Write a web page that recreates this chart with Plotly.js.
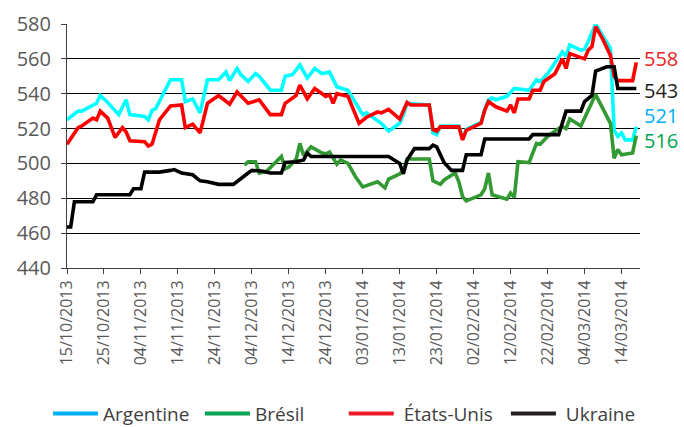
<!DOCTYPE html>
<html>
<head>
<meta charset="utf-8">
<script src="https://cdn.plot.ly/plotly-3.0.1.min.js"></script>
<style>
  html, body { margin: 0; padding: 0; background: #ffffff; }
  #chart { width: 684px; height: 427px; }
</style>
</head>
<body>
<div id="chart"></div>
<script>
// ---------- DATA ----------
const seriesNames = ["Argentine", "Brésil", " États-Unis", " Ukraine"];

const argentineDates = ["2013-10-15","2013-10-18","2013-10-19","2013-10-21","2013-10-23","2013-10-24","2013-10-26","2013-10-29","2013-10-31","2013-11-01","2013-11-05","2013-11-06","2013-11-07","2013-11-08","2013-11-12","2013-11-15","2013-11-16","2013-11-18","2013-11-20","2013-11-22","2013-11-25","2013-11-27","2013-11-28","2013-11-30","2013-12-01","2013-12-03","2013-12-05","2013-12-06","2013-12-09","2013-12-12","2013-12-13","2013-12-15","2013-12-17","2013-12-19","2013-12-21","2013-12-23","2013-12-25","2013-12-27","2013-12-30","2014-01-03","2014-01-04","2014-01-08","2014-01-10","2014-01-13","2014-01-14","2014-01-15","2014-01-21","2014-01-22","2014-01-23","2014-01-24","2014-01-29","2014-01-30","2014-01-31","2014-02-04","2014-02-05","2014-02-06","2014-02-07","2014-02-08","2014-02-11","2014-02-13","2014-02-17","2014-02-19","2014-02-20","2014-02-22","2014-02-26","2014-02-27","2014-02-28","2014-03-03","2014-03-04","2014-03-05","2014-03-07","2014-03-11","2014-03-12","2014-03-13","2014-03-14","2014-03-15","2014-03-17","2014-03-18"];
const argentineValues = [525,530,530,532,534.5,539,535,528,536.5,528,527,525,530.5,531.5,548,548,535.5,537,529,548,548,552.5,547.5,554.5,551,547,551.5,550,542,542,550,551,556.5,549,554.5,551.5,552.5,544,542,528,529,523,518.5,523,528,534.5,533.5,517.5,516.5,521.5,521.5,514,519.5,523.5,531,536.5,537.5,536.5,538.5,543,542,548,547,551.5,564,561.5,568,565,565.5,570,580,566,519,515.5,517.5,513.5,513.5,521];

const bresilDates = ["2013-12-02","2013-12-03","2013-12-05","2013-12-06","2013-12-08","2013-12-12","2013-12-13","2013-12-14","2013-12-16","2013-12-17","2013-12-18","2013-12-20","2013-12-23","2013-12-24","2013-12-25","2013-12-27","2013-12-28","2013-12-30","2014-01-01","2014-01-03","2014-01-07","2014-01-09","2014-01-10","2014-01-13","2014-01-14","2014-01-15","2014-01-21","2014-01-22","2014-01-24","2014-01-25","2014-01-28","2014-01-29","2014-01-30","2014-01-31","2014-02-04","2014-02-05","2014-02-06","2014-02-07","2014-02-11","2014-02-12","2014-02-13","2014-02-14","2014-02-17","2014-02-19","2014-02-20","2014-02-22","2014-02-25","2014-02-26","2014-02-27","2014-02-28","2014-03-03","2014-03-04","2014-03-07","2014-03-11","2014-03-12","2014-03-13","2014-03-14","2014-03-17","2014-03-18"];
const bresilValues = [499,501,501,494.5,495.5,504,497,498,502.5,511.5,504.5,509.5,506,505.5,506.5,499.5,502,500,492.5,486.5,489.5,486,491,494,496,502.5,502.5,490,488,490.5,494.5,489.5,481,478.5,482,485.5,494.5,482,479.5,483,480.5,501,500.5,511.5,511,515.5,520,521,520,525.5,521.5,526,539.5,523,503,508,505,506,516];

const etatsUnisDates = ["2013-10-15","2013-10-18","2013-10-19","2013-10-22","2013-10-23","2013-10-24","2013-10-26","2013-10-28","2013-10-30","2013-10-31","2013-11-01","2013-11-05","2013-11-06","2013-11-07","2013-11-09","2013-11-12","2013-11-15","2013-11-16","2013-11-18","2013-11-20","2013-11-22","2013-11-25","2013-11-28","2013-11-30","2013-12-03","2013-12-06","2013-12-09","2013-12-12","2013-12-13","2013-12-16","2013-12-17","2013-12-19","2013-12-21","2013-12-24","2013-12-25","2013-12-26","2013-12-27","2013-12-30","2014-01-02","2014-01-04","2014-01-07","2014-01-08","2014-01-10","2014-01-13","2014-01-15","2014-01-16","2014-01-21","2014-01-22","2014-01-23","2014-01-24","2014-01-29","2014-01-30","2014-01-31","2014-02-04","2014-02-05","2014-02-06","2014-02-08","2014-02-11","2014-02-12","2014-02-13","2014-02-14","2014-02-17","2014-02-18","2014-02-20","2014-02-21","2014-02-24","2014-02-26","2014-02-27","2014-02-28","2014-03-04","2014-03-05","2014-03-06","2014-03-07","2014-03-09","2014-03-11","2014-03-12","2014-03-13","2014-03-17","2014-03-18"];
const etatsUnisValues = [511,520.5,521.5,526,525,530,526,515,520.5,518,513,512.5,510,511,525,533,533.5,520.5,522.5,517.5,534.5,539,534,541,534.5,536.5,528,528,534.5,539,545,537,543,538.5,539.5,534.5,540,538.5,523,526.5,529.5,529,531,525.5,535,533.5,533.5,519.5,518.5,521,521,513.5,519,523,530.5,535.5,532.5,530,533.5,529,537,537,542,542,547,551.5,560,554.5,563,560,565,567,578.5,571,562,550,547.5,547.5,558];

const ukraineDates = ["2013-10-15","2013-10-16","2013-10-17","2013-10-22","2013-10-23","2013-11-01","2013-11-02","2013-11-04","2013-11-05","2013-11-09","2013-11-12","2013-11-13","2013-11-15","2013-11-18","2013-11-20","2013-11-22","2013-11-25","2013-11-29","2013-12-03","2013-12-04","2013-12-07","2013-12-09","2013-12-12","2013-12-13","2013-12-16","2013-12-18","2013-12-19","2013-12-20","2014-01-10","2014-01-13","2014-01-14","2014-01-15","2014-01-17","2014-01-21","2014-01-22","2014-01-23","2014-01-25","2014-01-27","2014-01-30","2014-01-31","2014-02-04","2014-02-05","2014-02-17","2014-02-18","2014-02-25","2014-02-27","2014-03-03","2014-03-04","2014-03-06","2014-03-07","2014-03-10","2014-03-12","2014-03-13","2014-03-18"];
const ukraineValues = [463.5,463.5,478,478,482,482,485.5,485.5,495,495,496,496.5,494.5,493.5,490,489.5,488,488,494.5,496,495.5,494.5,494.5,500.5,501,502,506,504,504,500,494,502,508.5,508.5,510.5,509.5,500.5,496,496,505,505,514,514,516.5,516.5,530,530,535.5,539,553,555.5,555.5,543,543];

const lineColors   = ["#00FFFF", "#339933", "#FF0000", "#000000"];
const legendColors = ["#00B0F0", "#00A651", "#ED1C24", "#231F20"];
const labelColors  = ["#00AEEF", "#00A651", "#ED1C24", "#231F20"];
const xTickDates = ["2013-10-15","2013-10-25","2013-11-04","2013-11-14","2013-11-24","2013-12-04","2013-12-14","2013-12-24","2014-01-03","2014-01-13","2014-01-23","2014-02-02","2014-02-12","2014-02-22","2014-03-04","2014-03-14"];
const yTickValues = [440, 460, 480, 500, 520, 540, 560, 580];

// ---------- BUILD ----------
const allDates  = [argentineDates, bresilDates, etatsUnisDates, ukraineDates];
const allValues = [argentineValues, bresilValues, etatsUnisValues, ukraineValues];
const FONT = '"Open Sans", "DejaVu Sans", sans-serif';

function fmtDate(s) { const p = s.split("-"); return p[2] + "/" + p[1] + "/" + p[0]; }

const traces = [];
for (let i = 0; i < 4; i++) {
  traces.push({
    type: "scatter", mode: "lines",
    x: allDates[i], y: allValues[i],
    line: { color: lineColors[i], width: 3.6 },
    showlegend: false, hoverinfo: "skip"
  });
}
const legendIds = ["legend", "legend2", "legend3", "legend4"];
for (let i = 0; i < 4; i++) {
  traces.push({
    type: "scatter", mode: "lines",
    x: [null], y: [null],
    name: seriesNames[i],
    line: { color: legendColors[i], width: 4 },
    showlegend: true, legend: legendIds[i]
  });
}

const labelShift = [11, -5, 4, -2];
const annotations = [];
for (let i = 0; i < 4; i++) {
  const v = allValues[i][allValues[i].length - 1];
  annotations.push({
    xref: "paper", x: 1, xanchor: "left", xshift: 2,
    yref: "y", y: v, yanchor: "middle", yshift: labelShift[i],
    text: String(Math.round(v)), showarrow: false,
    font: { family: FONT, size: 20, color: labelColors[i] }
  });
}

const legendX = [-0.033, 0.232, 0.483, 0.766];
function mkLegend(i) {
  return {
    orientation: "h", x: legendX[i], xanchor: "left", xref: "paper",
    y: 0.031, yanchor: "middle", yref: "container",
    itemwidth: 45, bgcolor: "rgba(0,0,0,0)", borderwidth: 0,
    font: { family: FONT, size: 19, color: "#404040" }
  };
}

const layout = {
  width: 684, height: 427,
  margin: { l: 67, r: 44, t: 24, b: 159 },
  paper_bgcolor: "#ffffff", plot_bgcolor: "#ffffff",
  font: { family: FONT, color: "#595959" },
  showlegend: true,
  legend: mkLegend(0), legend2: mkLegend(1), legend3: mkLegend(2), legend4: mkLegend(3),
  xaxis: {
    type: "date", range: ["2013-10-15", "2014-03-19"],
    tickmode: "array", tickvals: xTickDates, ticktext: xTickDates.map(fmtDate),
    tickangle: -90, tickfont: { family: FONT, size: 16, color: "#595959" },
    ticks: "outside", ticklen: 5, tickcolor: "#404040", tickwidth: 1,
    showline: true, linecolor: "#404040", linewidth: 1,
    showgrid: false, zeroline: false, automargin: false
  },
  yaxis: {
    range: [440, 580], tickmode: "array", tickvals: yTickValues,
    tickfont: { family: FONT, size: 20, color: "#595959" },
    ticks: "outside", ticklen: 5, tickcolor: "#404040", tickwidth: 1,
    showline: true, linecolor: "#404040", linewidth: 1,
    showgrid: true, gridcolor: "#000000", gridwidth: 1,
    zeroline: false, automargin: false, ticklabelstandoff: 6
  },
  annotations: annotations
};

Plotly.newPlot("chart", traces, layout, { displayModeBar: false, staticPlot: true });
</script>
</body>
</html>
